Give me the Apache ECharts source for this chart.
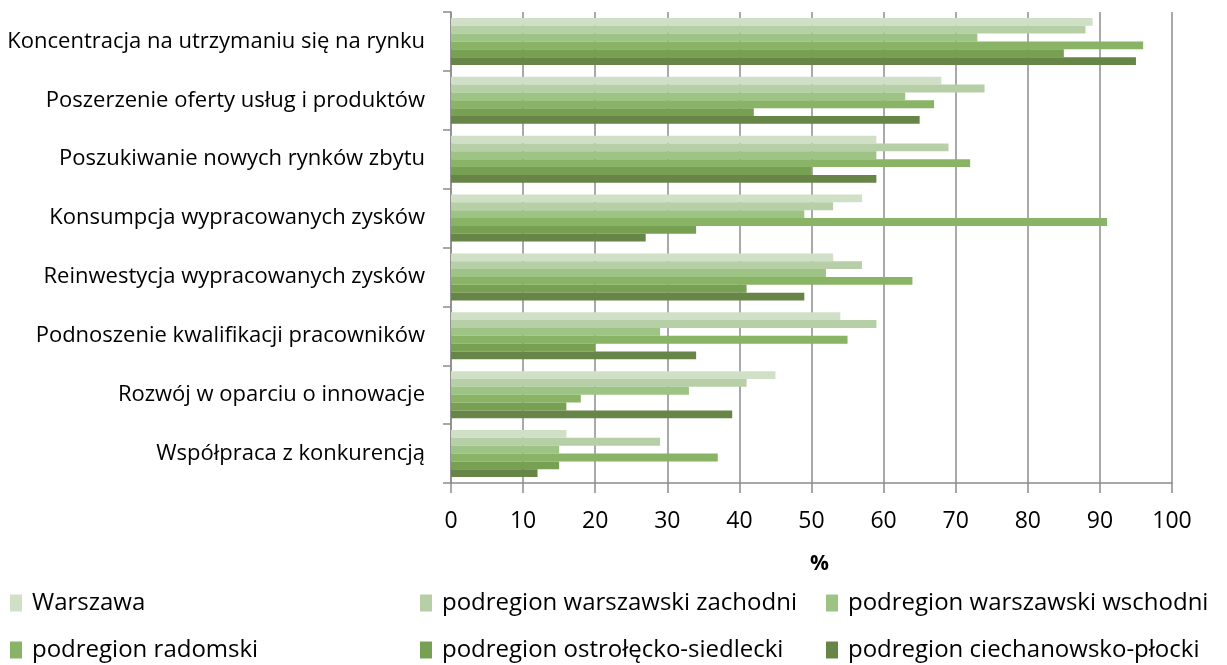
<!DOCTYPE html>
<html><head><meta charset="utf-8">
<script src="https://cdn.jsdelivr.net/npm/echarts@6/dist/echarts.min.js"></script>
<style>html,body{margin:0;padding:0;background:#fff}#c{width:1227px;height:665px}</style>
</head><body><div id="c"></div>
<script>
const categories = [
  "Koncentracja na utrzymaniu się na rynku",
  "Poszerzenie oferty usług i produktów",
  "Poszukiwanie nowych rynków zbytu",
  "Konsumpcja wypracowanych zysków",
  "Reinwestycja wypracowanych zysków",
  "Podnoszenie kwalifikacji pracowników",
  "Rozwój w oparciu o innowacje",
  "Współpraca z konkurencją"
];
const seriesNames = [
  "Warszawa",
  "podregion warszawski zachodni",
  "podregion warszawski wschodni",
  "podregion radomski",
  "podregion ostrołęcko-siedlecki",
  "podregion ciechanowsko-płocki"
];
const warszawa     = [89, 68, 59, 57, 53, 54, 45, 16];
const zachodni     = [88, 74, 69, 53, 57, 59, 41, 29];
const wschodni     = [73, 63, 59, 49, 52, 29, 33, 15];
const radomski     = [96, 67, 72, 91, 64, 55, 18, 37];
const ostroleckoS  = [85, 42, 50, 34, 41, 20, 16, 15];
const ciechanowsko = [95, 65, 59, 27, 49, 34, 39, 12];
const xTicks = [0, 100, 10];
const colors = ["#d0e0c6", "#b6cfa6", "#9dc385", "#89b465", "#77a052", "#668547"];

const data = [warszawa, zachodni, wschodni, radomski, ostroleckoS, ciechanowsko];
const font = "Open Sans";
const legendPos = [
  {left: 10, top: 591}, {left: 420, top: 591}, {left: 826, top: 591},
  {left: 10, top: 638}, {left: 420, top: 638}, {left: 826, top: 638}
];
const chart = echarts.init(document.getElementById('c'), null, {renderer: 'canvas'});
chart.setOption({
  animation: false,
  textStyle: {fontFamily: font},
  color: colors,
  grid: {left: 451, right: 55, top: 12, height: 471, containLabel: false},
  legend: seriesNames.map((n, i) => ({
    data: [n], left: legendPos[i].left, top: legendPos[i].top,
    itemWidth: 12, itemHeight: 17, itemGap: 0, padding: 0,
    icon: 'rect',
    textStyle: {fontFamily: font, fontSize: 24, color: '#000', padding: [0, 0, 0, 5]}
  })),
  xAxis: {
    type: 'value', min: xTicks[0], max: xTicks[1], interval: xTicks[2],
    name: '%', nameLocation: 'middle', nameGap: 71,
    nameTextStyle: {fontFamily: font, fontSize: 21, fontWeight: 'bold', color: '#000', padding: [0, 0, 0, 16]},
    axisLine: {show: true, lineStyle: {color: '#8c8c8c', width: 1.5}},
    axisTick: {show: true, length: 10, lineStyle: {color: '#8c8c8c', width: 1.5}},
    axisLabel: {fontFamily: font, fontSize: 23, color: '#000', margin: 27},
    splitLine: {show: true, lineStyle: {color: '#8c8c8c', width: 1.5}}
  },
  yAxis: {
    type: 'category', data: categories, inverse: true,
    axisLine: {show: true, lineStyle: {color: '#8c8c8c', width: 1.5}},
    axisTick: {show: true, length: 8, lineStyle: {color: '#8c8c8c', width: 1.5}},
    axisLabel: {fontFamily: font, fontSize: 22, color: '#000', margin: 26}
  },
  series: seriesNames.map((n, i) => ({
    name: n, type: 'bar', data: data[i],
    barGap: '0%', barCategoryGap: '20%',
    itemStyle: {color: colors[i]}
  }))
});
</script></body></html>
